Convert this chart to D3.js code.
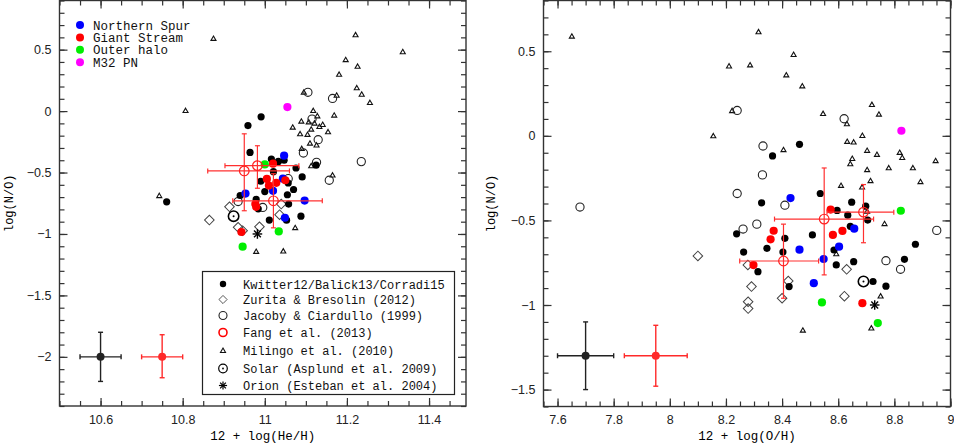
<!DOCTYPE html>
<html>
<head>
<meta charset="utf-8">
<script src="https://cdn.jsdelivr.net/npm/d3@7"></script>
<style>
  body { margin: 0; background: #fff; }
  svg { display: block; }
</style>
</head>
<body>
<svg id="chart" width="954" height="444"></svg>
<script>
// ---------- Left panel: 12 + log(He/H) vs log(N/O) ----------
const heKwitter = [[10.761,-0.738],[10.991,-0.047],[10.959,-0.118],[10.964,-0.336],[11.016,-0.39],[11.033,-0.41],
  [11.047,-0.4],[11.076,-0.463],[11.021,-0.493],[11.091,-0.536],[10.99,-0.571],[11.057,-0.585],[11.0,-0.655],
  [11.07,-0.638],[11.055,-0.681],[10.94,-0.687],[10.979,-0.719],[10.984,-0.795],[11.058,-0.757],[11.011,-0.887],
  [11.088,-0.855],[11.053,-0.888],[11.125,-0.44]];
const heZurita = [[10.865,-0.887],[10.914,-0.779],[10.935,-0.946],[10.946,-0.973],[10.987,-0.941],[11.04,-0.757],[11.036,-0.843]];
const heJacoby = [[11.105,0.153],[11.165,0.103],[11.115,-0.065],[11.13,-0.233],[11.094,-0.341],[11.126,-0.417],
  [11.235,-0.411],[11.157,-0.563],[11.057,-0.55],[10.935,-0.736],[10.995,-0.784]];
const heMilingo = [[10.743,-0.692],[10.807,0.0],[10.875,0.587],[11.221,0.617],[11.336,0.479],[11.197,0.414],[11.226,0.36],
  [11.181,0.295],[11.224,0.185],[11.236,0.133],[11.256,0.065],[11.095,0.15],[11.175,0.125],[11.118,0.0],[11.128,-0.043],
  [11.169,-0.037],[11.107,-0.092],[11.089,-0.086],[11.121,-0.102],[11.141,-0.113],[11.133,-0.13],[11.068,-0.135],
  [11.113,-0.151],[11.154,-0.173],[11.086,-0.189],[11.104,-0.194],[11.11,-0.265],[11.126,-0.281],[11.09,-0.309],
  [11.113,-0.449],[11.165,-0.525],[11.074,-0.953],[10.979,-1.146],[11.045,-1.143]];
const heNSpur = [[11.047,-0.363],[11.044,-0.55],[11.02,-0.649],[10.953,-0.671],[11.097,-0.728],[11.049,-0.868]];
const heStream = [[11.02,-0.428],[11.005,-0.552],[11.05,-0.563],[11.028,-0.584],[11.01,-0.606],[10.977,-0.757],[10.979,-0.779],[10.943,-0.984]];
const heHalo = [[11.0,-0.434],[11.034,-0.979],[10.946,-1.103]];
const heM32 = [[11.055,0.033]];
const heSolar = [[10.924,-0.855]];
const heOrion = [[10.982,-1.0]];
// x, y, xlow, xhigh, ylow, yhigh
const heFang = [[10.95,-0.487,10.861,11.06,-0.811,-0.185],[10.982,-0.444,10.903,11.083,-0.628,-0.282],[11.021,-0.73,10.922,11.14,-0.95,-0.51]];
const heTypical = [[10.6,-2.0,10.55,10.65,-2.2,-1.8,"#222"],[10.75,-2.0,10.70,10.80,-2.17,-1.82,"#ff2a2a"]];
const heXTicks = [10.6, 10.8, 11, 11.2, 11.4];
const heYTicks = [-2, -1.5, -1, -0.5, 0, 0.5];

// ---------- Right panel: 12 + log(O/H) vs log(N/O) ----------
const oKwitter = [[8.462,-0.05],[8.366,-0.119],[8.327,-0.396],[8.238,-0.579],[8.263,-0.687],[8.346,-0.665],[8.41,-0.606],
  [8.403,-0.687],[8.314,-0.803],[8.425,-0.891],[8.508,-0.586],[8.536,-0.341],[8.596,-0.441],[8.648,-0.392],[8.634,-0.469],
  [8.643,-0.535],[8.585,-0.675],[8.593,-0.763],[8.655,-0.744],[8.698,-0.416],[8.705,-0.498],[8.724,-0.861],[8.77,-0.889],
  [8.836,-0.73],[8.875,-0.641]];
const oZurita = [[8.1,-0.71],[8.278,-0.763],[8.291,-0.891],[8.279,-0.981],[8.279,-1.021],[8.4,-0.96],[8.422,-0.858],[8.63,-0.789],[8.622,-0.948]];
const oJacoby = [[8.24,0.15],[7.68,-0.421],[8.332,-0.06],[8.33,-0.231],[8.24,-0.341],[8.41,-0.41],[8.31,-0.522],[8.261,-0.551],
  [8.621,0.101],[8.951,-0.559],[8.77,-0.738],[8.822,-0.789]];
const oMilingo = [[7.651,0.586],[8.316,0.612],[8.211,0.41],[8.286,0.416],[8.441,0.478],[8.415,0.357],[8.472,0.292],[8.222,0.146],
  [8.155,-0.003],[8.72,0.182],[8.546,0.129],[8.745,0.125],[8.686,-0.001],[8.631,0.068],[8.632,-0.036],[8.655,-0.04],
  [8.703,-0.089],[8.738,-0.113],[8.405,-0.085],[8.65,-0.137],[8.643,-0.168],[8.703,-0.203],[8.819,-0.101],[8.828,-0.131],
  [8.78,-0.192],[8.866,-0.192],[8.893,-0.274],[8.947,-0.15],[8.715,-0.268],[8.61,-0.296],[8.685,-0.306],[8.703,-0.449],
  [8.765,-0.522],[8.593,-0.7],[8.751,-0.95],[8.474,-1.152],[8.718,-1.139]];
const oNSpur = [[8.43,-0.368],[8.462,-0.673],[8.548,-0.728],[8.513,-0.871],[8.603,-0.655],[8.657,-0.549]];
const oStream = [[8.37,-0.561],[8.359,-0.612],[8.298,-0.764],[8.573,-0.436],[8.581,-0.586],[8.615,-0.562],[8.686,-0.989]];
const oHalo = [[8.823,-0.443],[8.542,-0.985],[8.741,-1.107]];
const oM32 = [[8.825,0.03]];
const oSolar = [[8.69,-0.861]];
const oOrion = [[8.73,-1.0]];
const oFang = [[8.405,-0.74,8.249,8.53,-0.96,-0.522],[8.55,-0.492,8.373,8.726,-0.822,-0.19],[8.69,-0.451,8.56,8.798,-0.632,-0.288]];
const oTypical = [[7.7,-1.3,7.6,7.8,-1.5,-1.1,"#222"],[7.95,-1.3,7.838,8.062,-1.48,-1.12,"#ff2a2a"]];
const oXTicks = [7.6, 7.8, 8, 8.2, 8.4, 8.6, 8.8, 9];
const oYTicks = [-1.5, -1, -0.5, 0, 0.5];

// ---------- Legends ----------
const groupNames = ["Northern Spur", "Giant Stream", "Outer halo", "M32 PN"];
const groupColors = ["#0000ff", "#ff0000", "#00ee00", "#ff00ff"];
const sourceNames = ["Kwitter12/Balick13/Corradi15", "Zurita & Bresolin (2012)", "Jacoby & Ciardullo (1999)",
  "Fang et al. (2013)", "Milingo et al. (2010)", "Solar (Asplund et al. 2009)", "Orion (Esteban et al. 2004)"];
const sourceKeys = ["kwitter", "zurita", "jacoby", "fang", "milingo", "solar", "orion"];

const svg = d3.select("#chart");
const MONO = "'Liberation Mono', 'DejaVu Sans Mono', monospace";
const SANS = "'Liberation Sans', Arial, sans-serif";
const AXIS = "#333";
const fmt = d => String(+d.toFixed(2)).replace("-", "\u2212");

// --- Marker drawing ---
function marker(sel, kind, color) {
  if (kind === "kwitter") {
    sel.append("circle").attr("r", 3.6).attr("fill", "#000");
  } else if (kind === "group") {
    sel.append("circle").attr("r", 4.1).attr("fill", color);
  } else if (kind === "jacoby") {
    sel.append("circle").attr("r", 4.1).attr("fill", "none").attr("stroke", "#222").attr("stroke-width", 1.1);
  } else if (kind === "fang") {
    sel.append("circle").attr("r", 4.8).attr("fill", "none").attr("stroke", "#ff2020").attr("stroke-width", 1.2);
  } else if (kind === "zurita") {
    sel.append("path").attr("d", d3.symbol(d3.symbolSquare, 46)()).attr("transform", "rotate(45)")
      .attr("fill", "none").attr("stroke", "#444").attr("stroke-width", 1);
  } else if (kind === "milingo") {
    sel.append("path").attr("d", d3.symbol(d3.symbolTriangle, 11)())
      .attr("fill", "none").attr("stroke", "#111").attr("stroke-width", 1.1);
  } else if (kind === "solar") {
    sel.append("circle").attr("r", 5.2).attr("fill", "none").attr("stroke", "#000").attr("stroke-width", 1.6);
    sel.append("circle").attr("r", 1).attr("fill", "#000");
  } else if (kind === "orion") {
    [0, 45, 90, 135].forEach(a => {
      sel.append("line").attr("x1", -4.8).attr("x2", 4.8).attr("y1", 0).attr("y2", 0)
        .attr("transform", `rotate(${a})`).attr("stroke", "#000").attr("stroke-width", 1.4);
    });
  }
}

function drawPanel(p) {
  const x = d3.scaleLinear().domain(p.xDomain).range([p.left, p.right]);
  const y = d3.scaleLinear().domain(p.yDomain).range([p.bottom, p.top]);
  const g = svg.append("g");
  const w = p.right - p.left, h = p.bottom - p.top;

  // --- Error bars (Fang + typical) ---
  const bars = (data, color, width) => {
    data.forEach(d => {
      const c = d[6] || color;
      const eb = g.append("g").attr("stroke", c).attr("stroke-width", width).attr("fill", "none");
      eb.append("line").attr("x1", x(d[2])).attr("x2", x(d[3])).attr("y1", y(d[1])).attr("y2", y(d[1]));
      eb.append("line").attr("x1", x(d[0])).attr("x2", x(d[0])).attr("y1", y(d[4])).attr("y2", y(d[5]));
      [d[2], d[3]].forEach(v => eb.append("line").attr("x1", x(v)).attr("x2", x(v)).attr("y1", y(d[1]) - 2.5).attr("y2", y(d[1]) + 2.5));
      [d[4], d[5]].forEach(v => eb.append("line").attr("y1", y(v)).attr("y2", y(v)).attr("x1", x(d[0]) - 2.5).attr("x2", x(d[0]) + 2.5));
    });
  };

  // --- Points ---
  const layer = (data, kind, color) => {
    g.selectAll(null).data(data).join("g")
      .attr("transform", d => `translate(${x(d[0])},${y(d[1])})`)
      .each(function () { marker(d3.select(this), kind, color); });
  };
  layer(p.milingo, "milingo");
  layer(p.jacoby, "jacoby");
  layer(p.zurita, "zurita");
  layer(p.kwitter, "kwitter");
  layer(p.nspur, "group", groupColors[0]);
  layer(p.stream, "group", groupColors[1]);
  layer(p.halo, "group", groupColors[2]);
  layer(p.m32, "group", groupColors[3]);
  bars(p.fang, "#ff3030", 1.2);
  layer(p.fang, "fang");
  layer(p.solar, "solar");
  layer(p.orion, "orion");
  bars(p.typical, "#222", 1.4);
  g.selectAll(null).data(p.typical).join("circle")
    .attr("cx", d => x(d[0])).attr("cy", d => y(d[1])).attr("r", 4).attr("fill", d => d[6]);

  // --- Axes (ticks inward on all four sides) ---
  const xMinor = d3.range(p.xDomain[0], p.xDomain[1] + 1e-6, 0.05);
  const yMinor = d3.range(p.yDomain[0], p.yDomain[1] + 1e-6, 0.1);
  const axes = [
    [d3.axisBottom(x).tickValues(p.xTicks).tickSize(-8).tickPadding(9).tickFormat(fmt), `translate(0,${p.bottom})`],
    [d3.axisBottom(x).tickValues(xMinor).tickSize(-5).tickFormat(""), `translate(0,${p.bottom})`],
    [d3.axisTop(x).tickValues(p.xTicks).tickSize(-8).tickFormat(""), `translate(0,${p.top})`],
    [d3.axisTop(x).tickValues(xMinor).tickSize(-5).tickFormat(""), `translate(0,${p.top})`],
    [d3.axisLeft(y).tickValues(p.yTicks).tickSize(-8).tickPadding(8).tickFormat(fmt), `translate(${p.left},0)`],
    [d3.axisLeft(y).tickValues(yMinor).tickSize(-5).tickFormat(""), `translate(${p.left},0)`],
    [d3.axisRight(y).tickValues(p.yTicks).tickSize(-8).tickFormat(""), `translate(${p.right},0)`],
    [d3.axisRight(y).tickValues(yMinor).tickSize(-5).tickFormat(""), `translate(${p.right},0)`]
  ];
  axes.forEach(([ax, tr]) => {
    const a = g.append("g").attr("transform", tr).call(ax)
      .attr("font-family", SANS).attr("font-size", 12.5);
    a.select(".domain").remove();
    a.selectAll("line").attr("stroke", AXIS).attr("stroke-width", 1.2);
    a.selectAll("text").attr("fill", "#222");
  });

  g.append("rect")
    .attr("x", p.left).attr("y", p.top).attr("width", w).attr("height", h)
    .attr("fill", "none").attr("stroke", AXIS).attr("stroke-width", 1.4);

  // --- Axis titles ---
  g.append("text")
    .attr("x", p.left + w / 2).attr("y", 440)
    .attr("text-anchor", "middle").attr("font-family", MONO).attr("font-size", 12.5)
    .text(p.xLabel);
  g.append("text")
    .attr("transform", `translate(${p.yLabelX},${p.top + h / 2}) rotate(-90)`)
    .attr("text-anchor", "middle").attr("font-family", MONO).attr("font-size", 12)
    .text("log(N/O)");
  return { x, y };
}

drawPanel({
  left: 59.5, right: 466, top: 0.5, bottom: 406, xDomain: [10.5, 11.49], yDomain: [-2.4, 0.9],
  xTicks: heXTicks, yTicks: heYTicks, xLabel: "12 + log(He/H)", yLabelX: 13,
  kwitter: heKwitter, zurita: heZurita, jacoby: heJacoby, milingo: heMilingo, nspur: heNSpur, stream: heStream,
  halo: heHalo, m32: heM32, solar: heSolar, orion: heOrion, fang: heFang, typical: heTypical
});
drawPanel({
  left: 543.5, right: 950.5, top: 0.5, bottom: 406.5, xDomain: [7.55, 9.0], yDomain: [-1.6, 0.8],
  xTicks: oXTicks, yTicks: oYTicks, xLabel: "12 + log(O/H)", yLabelX: 495,
  kwitter: oKwitter, zurita: oZurita, jacoby: oJacoby, milingo: oMilingo, nspur: oNSpur, stream: oStream,
  halo: oHalo, m32: oM32, solar: oSolar, orion: oOrion, fang: oFang, typical: oTypical
});

// --- Group legend (top left) ---
const topLegend = svg.append("g").attr("transform", "translate(80,25)");
const tl = topLegend.selectAll("g").data(groupNames).join("g")
  .attr("transform", (_, i) => `translate(0,${i * 12.4})`);
tl.append("circle").attr("r", 4).attr("fill", (_, i) => groupColors[i]);
tl.append("text").attr("x", 13).attr("y", 4.5)
  .attr("font-family", MONO).attr("font-size", 12.5).attr("fill", "#111").text(d => d);

// --- Source legend (boxed) ---
svg.append("rect").attr("x", 202.5).attr("y", 271.5).attr("width", 252).attr("height", 123)
  .attr("fill", "#fff").attr("stroke", "#222").attr("stroke-width", 1.2);
const rowY = [284, 299.5, 315.5, 332.5, 350, 368.5, 385.5];
const sl = svg.append("g").selectAll("g").data(sourceNames).join("g")
  .attr("transform", (_, i) => `translate(223,${rowY[i]})`);
sl.each(function (_, i) {
  const k = sourceKeys[i];
  const m = d3.select(this).append("g").attr("transform", k === "milingo" ? "translate(0,1)" : null);
  if (k === "kwitter") m.append("circle").attr("r", 3.2).attr("fill", "#000");
  else if (k === "zurita") marker(m.attr("transform", "scale(0.85)"), "zurita");
  else if (k === "jacoby") m.append("circle").attr("r", 4).attr("fill", "none").attr("stroke", "#222").attr("stroke-width", 1.1);
  else if (k === "fang") m.append("circle").attr("r", 4).attr("fill", "none").attr("stroke", "#ff0000").attr("stroke-width", 1.6);
  else if (k === "solar") {
    m.append("circle").attr("r", 4.3).attr("fill", "none").attr("stroke", "#000").attr("stroke-width", 1.2);
    m.append("circle").attr("r", 0.9).attr("fill", "#000");
  } else if (k === "orion") marker(m.attr("transform", "scale(0.85)"), "orion");
  else marker(m, k);
});
sl.append("text").attr("x", 20).attr("y", 4.5)
  .attr("font-family", MONO).attr("font-size", 12).attr("fill", "#111").text(d => d);
</script>
</body>
</html>
